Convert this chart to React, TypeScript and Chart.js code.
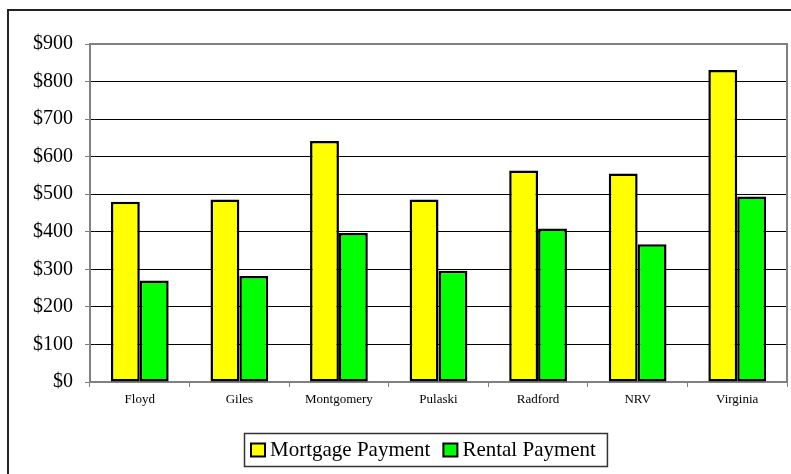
import React, { useEffect, useRef } from "react";
import { Chart, registerables } from "chart.js";

Chart.register(...registerables);

const categories = ["Floyd", "Giles", "Montgomery", "Pulaski", "Radford", "NRV", "Virginia"];
const mortgagePayment = [480, 486, 642, 486, 563, 555, 831];
const rentalPayment = [270, 282, 397, 296, 409, 367, 494];
const seriesLabels = ["Mortgage Payment", "Rental Payment"];
const yMax = 900;
const yStep = 100;

const SERIF = '"Liberation Serif", "Times New Roman", serif';

const framePlugin = {
  id: "frame",
  beforeDraw(chart: any) {
    const ctx = chart.ctx;
    ctx.save();
    ctx.fillStyle = "#fff";
    ctx.fillRect(0, 0, chart.width, chart.height);
    ctx.strokeStyle = "#222";
    ctx.lineWidth = 2;
    ctx.strokeRect(8, 10, chart.width + 20, chart.height + 20);
    ctx.restore();
  },
  afterDatasetsDraw(chart: any) {
    const { ctx, chartArea: a } = chart;
    ctx.save();
    ctx.strokeStyle = "#808080";
    ctx.lineWidth = 2;
    ctx.beginPath();
    ctx.moveTo(a.left, a.top);
    ctx.lineTo(a.right, a.top);
    ctx.lineTo(a.right, a.bottom);
    ctx.stroke();
    ctx.restore();
  },
  afterDraw(chart: any) {
    const ctx = chart.ctx;
    ctx.save();
    ctx.font = "21px " + SERIF;
    const items = chart.data.datasets.map((d: any) => ({ label: d.label, color: d.backgroundColor }));
    const sq = 14, gap = 5, itemGap = 13, padL = 7, padR = 11;
    const widths = items.map((i: any) => ctx.measureText(i.label).width);
    let total = padL + padR + itemGap * (items.length - 1);
    widths.forEach((w: number) => (total += sq + gap + w));
    const cx = 425, top = 433, h = 33;
    const left = Math.round(cx - total / 2);
    ctx.strokeStyle = "#333";
    ctx.lineWidth = 1.5;
    ctx.strokeRect(left + 0.5, top + 0.5, total, h);
    let x = left + padL;
    const midY = top + h / 2;
    items.forEach((it: any, i: number) => {
      ctx.fillStyle = it.color;
      ctx.fillRect(x, midY - 6, sq, 13);
      ctx.strokeStyle = "#000";
      ctx.lineWidth = 2;
      ctx.strokeRect(x, midY - 6, sq, 13);
      ctx.fillStyle = "#000";
      ctx.textBaseline = "middle";
      ctx.textAlign = "left";
      ctx.fillText(it.label, x + sq + gap, midY + 1);
      x += sq + gap + widths[i] + itemGap;
    });
    ctx.restore();
  },
};

export default function App() {
  const ref = useRef<HTMLCanvasElement>(null);
  useEffect(() => {
    if (!ref.current) return;
    const chart = new Chart(ref.current, {
      type: "bar",
      data: {
        labels: categories,
        datasets: [
          {
            label: seriesLabels[0],
            data: mortgagePayment,
            backgroundColor: "#FFFF00",
            borderColor: "#000",
            borderWidth: 2.5,
            borderSkipped: false,
            categoryPercentage: 0.58,
            barPercentage: 1.0,
          },
          {
            label: seriesLabels[1],
            data: rentalPayment,
            backgroundColor: "#00FF00",
            borderColor: "#000",
            borderWidth: 2.5,
            borderSkipped: false,
            categoryPercentage: 0.58,
            barPercentage: 1.0,
          },
        ],
      },
      options: {
        responsive: false,
        animation: false,
        layout: { padding: { left: 0, top: 44, right: 4, bottom: 0 } },
        plugins: { legend: { display: false }, tooltip: { enabled: false } },
        scales: {
          x: {
            afterFit(scale: any) {
              scale.height = 92;
            },
            grid: {
              drawOnChartArea: false,
              drawTicks: true,
              tickLength: 5,
              tickColor: "#808080",
              offset: true,
            },
            border: { color: "#808080", width: 2 },
            ticks: {
              color: "#000",
              font: { family: SERIF, size: 13 },
              padding: 5,
              maxRotation: 0,
            },
          },
          y: {
            min: 0,
            max: yMax,
            afterFit(scale: any) {
              scale.width = 90;
            },
            grid: {
              color: "#000",
              lineWidth: 1,
              tickLength: 5,
              tickColor: "#808080",
            },
            border: { color: "#808080", width: 2 },
            ticks: {
              stepSize: yStep,
              color: "#000",
              font: { family: SERIF, size: 20 },
              padding: 12,
              callback: (v: any) => "$" + v,
            },
          },
        },
      },
      plugins: [framePlugin],
    });
    return () => chart.destroy();
  }, []);
  return (
    <div style={{ position: "absolute", left: 0, top: 0, width: 791, height: 474 }}>
      <canvas ref={ref} width={791} height={474} style={{ display: "block" }} />
    </div>
  );
}
